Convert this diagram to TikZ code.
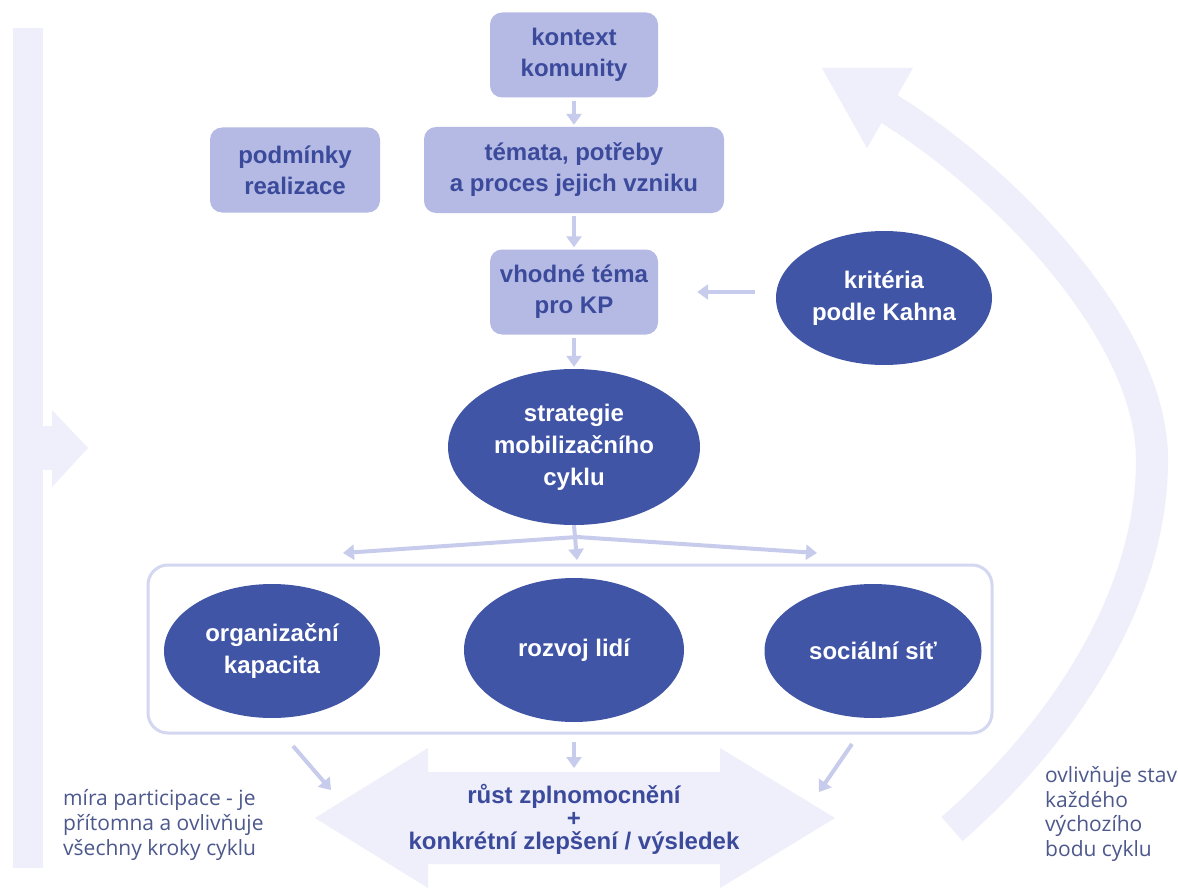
\documentclass[tikz,border=0pt]{standalone}
\usepackage{fontspec}
\setmainfont{Liberation Sans}
\newfontfamily\notefont{Open Sans}
\usetikzlibrary{shapes.geometric,arrows.meta}
\definecolor{boxfill}{RGB}{180,186,228}
\definecolor{boxtext}{RGB}{59,74,155}
\definecolor{darkfill}{RGB}{65,85,166}
\definecolor{conn}{RGB}{200,204,236}
\definecolor{frame}{RGB}{212,215,240}
\definecolor{pale}{RGB}{238,239,250}
\definecolor{notetext}{RGB}{77,88,140}
\tikzset{
  lightbox/.style={draw=none, fill=boxfill, rounded corners=12pt, align=center,
    text=boxtext, inner sep=0pt, font={\fontsize{24}{31}\selectfont\bfseries}},
  darkell/.style={ellipse, draw=none, fill=darkfill, align=center, text=white,
    inner sep=0pt, font={\fontsize{24}{32}\selectfont\bfseries}},
  conarrow/.style={draw=conn, line width=4pt, -{Triangle[length=11pt,width=15pt]}},
  notestyle/.style={align=left, text=notetext, inner sep=0pt,
    font={\notefont\fontsize{21}{24.8}\selectfont}},
  palefill/.style={fill=pale, draw=none}
}
\begin{document}
\begin{tikzpicture}[x=1pt,y=-1pt]
\useasboundingbox[fill=white] (0,0) rectangle (1178,888);

% left vertical band with notch arrow
\fill[pale] (13,28) rectangle (43,868);
\fill[pale] (42,426) rectangle (53,470);
\fill[pale] (52,410) -- (88,448) -- (52,487) -- cycle;

% right curved arrow
\draw[pale, line width=32pt] (952,829) .. controls (1060,735) and (1152,600) .. (1152,460)
  .. controls (1152,325) and (990,167) .. (876,101);
\fill[pale] (822,68) -- (913,68) -- (867,148) -- cycle;

% bottom double arrow
\fill[pale] (315,818) -- (428,748) -- (428,772) -- (720,772) -- (720,748) -- (835,818)
  -- (720,888) -- (720,864) -- (428,864) -- (428,888) -- cycle;
\node[align=center, text=boxtext, inner sep=0pt, font={\fontsize{24}{23}\selectfont\bfseries}]
  (result) at (574,819) {růst zplnomocnění\\+\\konkrétní zlepšení / výsledek};

% container
\draw[frame, line width=3pt, rounded corners=20pt] (148,565) rectangle (992,733);

% nodes
\node[lightbox, minimum width=168pt, minimum height=85pt] (kontext) at (574,55) {kontext\\komunity};
\node[lightbox, minimum width=170pt, minimum height=85pt] (podminky) at (295,170) {podmínky\\realizace};
\node[lightbox, minimum width=300pt, minimum height=86pt] (temata) at (574,170) {témata, potřeby\\a proces jejich vzniku};
\node[lightbox, minimum width=168pt, minimum height=85pt] (vhodne) at (574,292) {vhodné téma\\pro KP};
\node[darkell, minimum width=216pt, minimum height=134pt] (kriteria) at (884,298) {kritéria\\podle Kahna};
\node[darkell, minimum width=252pt, minimum height=156pt] (strategie) at (574,447) {strategie\\mobilizačního\\cyklu};
\node[darkell, minimum width=216pt, minimum height=134pt] (org) at (272,651) {organizační\\kapacita};
\node[darkell, minimum width=220pt, minimum height=144pt] (rozvoj) at (574,650) {rozvoj lidí};
\node[darkell, minimum width=217pt, minimum height=134pt] (socialni) at (873,651) {sociální síť};

% connectors
\draw[conarrow] ([yshift=-3pt]kontext.south) -- ([yshift=2pt]temata.north);
\draw[conarrow] ([yshift=-3pt]temata.south) -- ([yshift=2pt]vhodne.north);
\draw[conarrow] ([xshift=-21pt]kriteria.west |- vhodne.east) -- ([xshift=39pt]vhodne.east);
\draw[conarrow] ([yshift=-3pt]vhodne.south) -- ([yshift=2pt]strategie.north);

\coordinate (fork) at (577,537);
\coordinate (forkL) at (343,553);
\coordinate (forkR) at (817,553);
\coordinate (forkM) at (577,560);
\draw[conarrow] (strategie.south) -- (forkM);
\draw[conarrow] (fork) -- (forkL);
\draw[conarrow] (fork) -- (forkR);

\coordinate (outL0) at (293,746);
\coordinate (outL1) at (331,790);
\coordinate (outM0) at (574,742);
\coordinate (outM1) at (574,768);
\coordinate (outR0) at (852,744);
\coordinate (outR1) at (819,792);
\draw[conarrow] (outL0) -- (outL1);
\draw[conarrow] (outM0) -- (outM1);
\draw[conarrow] (outR0) -- (outR1);

% annotations
\node[notestyle, anchor=west] (mira) at (63,825) {míra participace - je\\přítomna a ovlivňuje\\všechny kroky cyklu};
\node[notestyle, anchor=west] (ovliv) at (1045,814) {ovlivňuje stav\\každého\\výchozího\\bodu cyklu};
\end{tikzpicture}
\end{document}
